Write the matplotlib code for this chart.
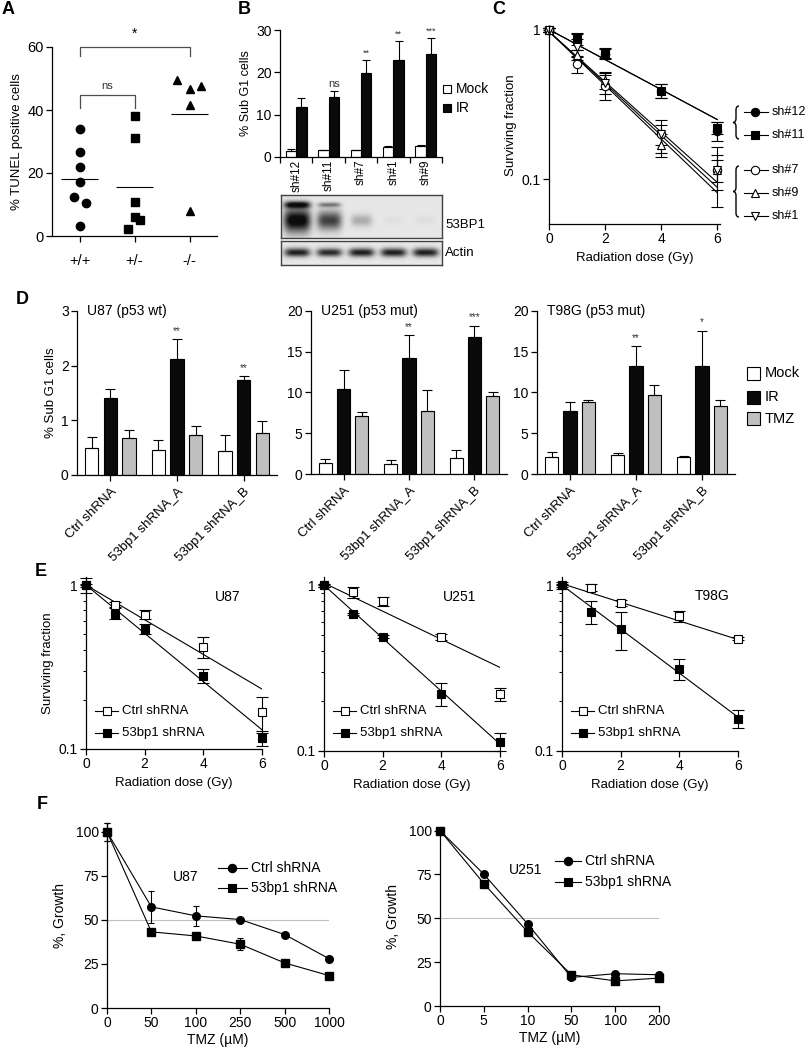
import numpy as np
import matplotlib
matplotlib.use("Agg")
import matplotlib.pyplot as plt
from matplotlib.lines import Line2D
from matplotlib.patches import Rectangle, PathPatch
from matplotlib.path import Path

plt.rcParams['font.family'] = ['Liberation Sans', 'DejaVu Sans']
plt.rcParams['axes.linewidth'] = 0.9

# ---------------- data ----------------
# A: TUNEL
genotypes = ['+/+', '+/-', '-/-']
tunel_wt = [34, 26.7, 22, 17.3, 12.4, 10.4, 3.3]
tunel_het = [38.2, 31, 10.8, 6, 5.1, 2.3]
tunel_ko = [49.5, 46.7, 47.7, 41.6, 8]
jit_wt = [0, 0, 0, 0, -0.1, 0.11, 0]
jit_het = [0, 0, 0, 0, 0.1, -0.11]
jit_ko = [-0.22, 0, 0.21, 0, 0]

# B: sub G1 per shRNA
sh_labels = ['sh#12', 'sh#11', 'sh#7', 'sh#1', 'sh#9']
b_mock = [1.3, 1.6, 1.6, 2.3, 2.7]
b_mock_err = [0.7, 0.1, 0.1, 0.2, 0.2]
b_ir = [11.7, 14.2, 19.8, 23.0, 24.3]
b_ir_err = [2.2, 1.3, 3.0, 4.4, 3.8]
b_sig = ['', 'ns', '**', '**', '***']
blot_53bp1_upper = [0.9, 0.45, 0.0, 0.0, 0.0]
blot_53bp1_lower = [1.0, 0.7, 0.25, 0.03, 0.04]
blot_actin = [0.85, 0.8, 0.85, 0.85, 0.85]

# C: clonogenic per shRNA
doses = [0, 1, 2, 4, 6]
c_names = ['sh#12', 'sh#11', 'sh#7', 'sh#9', 'sh#1']
c_sh12 = [1.0, 0.83, 0.69, 0.39, 0.21]
c_sh11 = [1.0, 0.87, 0.70, 0.39, 0.22]
c_sh7 = [1.0, 0.59, 0.42, 0.20, 0.115]
c_sh9 = [1.0, 0.68, 0.46, 0.17, 0.115]
c_sh1 = [1.0, 0.76, 0.44, 0.20, 0.115]
c_sh12_err = [0.03, 0.1, 0.05, 0.04, 0.03]
c_sh11_err = [0.03, 0.08, 0.05, 0.04, 0.02]
c_sh7_err = [0.03, 0.08, 0.08, 0.03, 0.02]
c_sh9_err = [0.03, 0.05, 0.06, 0.03, 0.03]
c_sh1_err = [0.03, 0.1, 0.07, 0.05, 0.05]
c_fit0 = [1.0, 1.0, 0.97, 0.97, 0.97]
c_fit6 = [0.25, 0.25, 0.095, 0.088, 0.081]

# D: sub G1 in three lines
d_groups = ['Ctrl shRNA', '53bp1 shRNA_A', '53bp1 shRNA_B']
u87_mock = [0.5, 0.46, 0.43]
u87_mock_err = [0.19, 0.18, 0.30]
u87_ir = [1.41, 2.12, 1.73]
u87_ir_err = [0.16, 0.37, 0.08]
u87_tmz = [0.67, 0.73, 0.77]
u87_tmz_err = [0.16, 0.16, 0.22]
u251_mock = [1.3, 1.25, 2.0]
u251_mock_err = [0.6, 0.45, 0.9]
u251_ir = [10.45, 14.2, 16.75]
u251_ir_err = [2.3, 2.85, 1.45]
u251_tmz = [7.1, 7.75, 9.6]
u251_tmz_err = [0.45, 2.6, 0.4]
t98_mock = [2.05, 2.3, 2.05]
t98_mock_err = [0.6, 0.3, 0.2]
t98_ir = [7.7, 13.2, 13.2]
t98_ir_err = [1.1, 2.5, 4.4]
t98_tmz = [8.8, 9.65, 8.35]
t98_tmz_err = [0.25, 1.25, 0.7]
u87_sig = ['', '**', '**']
u251_sig = ['', '**', '***']
t98_sig = ['', '**', '*']

# E: clonogenic in three lines
e_u87_ctrl = [1.0, 0.76, 0.66, 0.42, 0.167]
e_u87_ctrl_err = [0.1, 0.03, 0.04, 0.06, 0.042]
e_u87_kd = [1.0, 0.67, 0.54, 0.28, 0.116]
e_u87_kd_err = [0.02, 0.05, 0.04, 0.026, 0.012]
e_u87_fit = [(1.0, 0.232), (1.0, 0.131)]
e_u251_ctrl = [1.0, 0.907, 0.80, 0.49, 0.22]
e_u251_ctrl_err = [0.02, 0.07, 0.05, 0.02, 0.02]
e_u251_kd = [1.0, 0.674, 0.49, 0.222, 0.114]
e_u251_kd_err = [0.02, 0.01, 0.01, 0.035, 0.014]
e_u251_fit = [(1.03, 0.319), (1.0, 0.11)]
e_t98_ctrl = [1.0, 0.968, 0.78, 0.65, 0.474]
e_t98_ctrl_err = [0.02, 0.05, 0.03, 0.05, 0.01]
e_t98_kd = [1.0, 0.69, 0.547, 0.314, 0.157]
e_t98_kd_err = [0.05, 0.11, 0.14, 0.045, 0.02]
e_t98_fit = [(1.02, 0.47), (1.0, 0.16)]

# F: TMZ growth
f_u87_doses = ['0', '50', '100', '250', '500', '1000']
f_u87_ctrl = [100, 57.4, 52.3, 50.2, 41.7, 28.0]
f_u87_ctrl_err = [5, 9, 5.7, 0, 0, 0]
f_u87_kd = [100, 43.2, 40.9, 36.2, 25.6, 18.4]
f_u87_kd_err = [5, 0, 0, 3.3, 0, 0]
f_u251_doses = ['0', '5', '10', '50', '100', '200']
f_u251_ctrl = [100, 75.1, 46.8, 16.3, 18.4, 17.8]
f_u251_kd = [100, 69.8, 42.3, 17.8, 14.3, 15.9]

# ---------------- figure ----------------
W, H = 809, 1050
fig = plt.figure(figsize=(W / 100, H / 100), dpi=100)


def box(l, t, r, b):
    return fig.add_axes([l / W, 1 - b / H, (r - l) / W, (b - t) / H])


def px(x, y):
    return x / W, 1 - y / H


def style(ax, fs=10):
    for s in ['top', 'right']:
        ax.spines[s].set_visible(False)
    ax.tick_params(direction='out', length=4, width=0.9, labelsize=fs, pad=2)
    ax.tick_params(which='minor', direction='out', length=2, width=0.7)


def leg_line(x0, x1, xm, y, marker, mfc, text, fs=9, ms=5.5):
    fig.add_artist(Line2D([x0 / W, x1 / W], [1 - y / H] * 2, color='black', lw=0.8,
                          transform=fig.transFigure))
    fig.add_artist(Line2D([xm / W], [1 - y / H], marker=marker, mfc=mfc, mec='black',
                          ms=ms, mew=0.8, color='black', transform=fig.transFigure))
    fig.text(*px(x1 + 4, y), text, fontsize=fs, va='center', ha='left')


def leg_box(x, y, size, color, text, fs=10):
    fig.add_artist(Rectangle(px(x, y + size / 2), size / W, size / H, facecolor=color,
                             edgecolor='black', lw=0.8, transform=fig.transFigure))
    fig.text(*px(x + size + 5, y), text, fontsize=fs, va='center', ha='left')


def brace(x, y0, y1, w=6):
    # thin left curly brace in pixel coords
    ym = (y0 + y1) / 2
    r = 4
    verts = [(x + w, y0), (x + w / 2, y0), (x + w / 2, y0 + r),
             (x + w / 2, ym - r), (x + w / 2, ym), (x, ym),
             (x + w / 2, ym), (x + w / 2, ym + r),
             (x + w / 2, y1 - r), (x + w / 2, y1), (x + w, y1)]
    codes = [Path.MOVETO, Path.CURVE3, Path.CURVE3, Path.LINETO, Path.CURVE3, Path.CURVE3,
             Path.CURVE3, Path.CURVE3, Path.LINETO, Path.CURVE3, Path.CURVE3]
    verts = [px(a, b) for a, b in verts]
    fig.add_artist(PathPatch(Path(verts, codes), fill=False, lw=1.0, edgecolor='black',
                             transform=fig.transFigure))


for lab, (x, y) in zip('ABCDEF', [(2, 1), (238, 1), (492, 1), (16, 291), (35, 563), (37, 796)]):
    fig.text(*px(x, y), lab, fontsize=13, fontweight='bold', va='top', ha='left')

# ---- A ----
axA = box(52, 47, 217, 236)
style(axA, 10.5)
for i, (vals, jit, m) in enumerate(zip([tunel_wt, tunel_het, tunel_ko],
                                       [jit_wt, jit_het, jit_ko], ['o', 's', '^'])):
    axA.plot(i + np.array(jit), vals, m, color='black', ms=6, ls='none', clip_on=False)
    axA.hlines(np.mean(vals), i - 0.33, i + 0.33, color='black', lw=0.8)
axA.set_xlim(-0.5, 2.5)
axA.set_ylim(0, 60)
axA.set_yticks([0, 20, 40, 60])
axA.set_xticks([0, 1, 2])
axA.set_xticklabels(genotypes)
axA.tick_params(axis='x', pad=9)
axA.set_ylabel('% TUNEL positive cells', fontsize=9.5, labelpad=3)
axA.plot([0, 0, 2, 2], [57, 60, 60, 57], color='0.3', lw=0.9, clip_on=False)
axA.text(1, 62, '*', ha='center', va='bottom', fontsize=10)
axA.plot([0, 0, 1, 1], [40.6, 44.8, 44.8, 40.6], color='0.3', lw=0.9, clip_on=False)
axA.text(0.5, 46, 'ns', ha='center', va='bottom', fontsize=8, color='0.2')

# ---- B ----
axB = box(280, 30, 442, 157)
style(axB, 10)
xb = np.arange(5) + 0.5
ek = dict(lw=0.8, capthick=0.8, ecolor='black')
axB.bar(xb - 0.16, b_mock, 0.32, color='white', edgecolor='black', lw=0.8,
        yerr=[np.zeros(5), b_mock_err], capsize=3, error_kw=ek)
axB.bar(xb + 0.16, b_ir, 0.32, color='#0a0a0a', edgecolor='black', lw=0.8,
        yerr=[np.zeros(5), b_ir_err], capsize=3, error_kw=ek)
for xi, v, e, s in zip(xb, b_ir, b_ir_err, b_sig):
    axB.text(xi + 0.16, v + e + 0.6, s, ha='center', va='bottom',
             fontsize=8 if s == 'ns' else 6.5, color='0.2')
axB.set_xlim(0, 5)
axB.set_ylim(0, 30)
axB.set_yticks([0, 10, 20, 30])
axB.set_xticks(range(6))
axB.set_xticklabels([])
axB.set_xticks(xb, minor=True)
axB.set_xticklabels(sh_labels, minor=True, rotation=90, fontsize=8.5)
axB.tick_params(axis='x', which='minor', length=0, pad=2)
axB.set_ylabel('% Sub G1 cells', fontsize=9, labelpad=3)
leg_box(443, 89, 8, 'white', 'Mock', 10)
leg_box(443, 108, 8, '#0a0a0a', 'IR', 10)


# western blot
def blot(ax, bands, ny):
    xx = np.linspace(0, 5, 322)
    yy = np.arange(ny) + 0.5
    X, Y = np.meshgrid(xx, yy)
    img = np.full(X.shape, 0.1)
    for yc, wy, inten in bands:
        for k, a in enumerate(inten):
            if a <= 0:
                continue
            wx = 0.3 + 0.12 * a
            img += a * np.exp(-((X - k - 0.5) / wx) ** 4) * np.exp(-((Y - yc) / (wy * (0.5 + a))) ** 2)
    ax.imshow(np.clip(img, 0, 1), cmap='gray_r', vmin=0, vmax=1.05, aspect='auto',
              extent=(0, 5, ny, 0), interpolation='bilinear')
    ax.set_xticks([])
    ax.set_yticks([])
    for s in ax.spines.values():
        s.set_linewidth(1.0)
        s.set_color('0.25')


axW1 = box(281, 195, 442, 238)
blot(axW1, [(10, 2.5, blot_53bp1_upper), (26, 8, blot_53bp1_lower)], 44)
axW2 = box(281, 241, 442, 265)
blot(axW2, [(12, 3, blot_actin)], 24)
fig.text(*px(445, 225), '53BP1', fontsize=9.5, va='center')
fig.text(*px(445, 253), 'Actin', fontsize=9.5, va='center')

# ---- C ----
axC = box(549, 27, 720, 224)
style(axC, 10)
axC.set_yscale('log')
c_series = [(c_sh12, c_sh12_err, 'o', 'black'), (c_sh11, c_sh11_err, 's', 'black'),
            (c_sh7, c_sh7_err, 'o', 'white'), (c_sh9, c_sh9_err, '^', 'white'),
            (c_sh1, c_sh1_err, 'v', 'white')]
for (vals, err, m, fc), f0, f6 in zip(c_series, c_fit0, c_fit6):
    axC.plot([0, 6], [f0, f6], color='black', lw=0.8)
    axC.errorbar(doses, vals, yerr=err, fmt=m, mfc=fc, mec='black', ms=6, mew=0.8,
                 ecolor='black', elinewidth=0.8, capsize=4, capthick=0.8, clip_on=False)
axC.set_xlim(0, 6.1)
axC.set_ylim(0.05, 1.04)
axC.set_xticks([0, 2, 4, 6])
axC.set_yticks([0.1, 1])
axC.set_yticklabels(['0.1', '1'])
axC.yaxis.set_minor_locator(matplotlib.ticker.NullLocator())
axC.set_xlabel('Radiation dose (Gy)', fontsize=9.5)
axC.set_ylabel('Surviving fraction', fontsize=9.5, labelpad=3)
for (vals, err, m, fc), y, lab in zip(c_series, [112, 135, 170, 193, 216], c_names):
    leg_line(744, 768, 755, y, m, fc, lab, 9, 6)
brace(733, 106, 139)
brace(733, 166, 217)

# ---- D ----
d_cols = ['white', '#0a0a0a', '#bfbfbf']
d_sets = [
    ((77, 311, 277, 475), [u87_mock, u87_ir, u87_tmz], [u87_mock_err, u87_ir_err, u87_tmz_err],
     u87_sig, 3, [0, 1, 2, 3], 'U87 (p53 wt)', 0.06),
    ((311, 311, 507, 474), [u251_mock, u251_ir, u251_tmz], [u251_mock_err, u251_ir_err, u251_tmz_err],
     u251_sig, 20, [0, 5, 10, 15, 20], 'U251 (p53 mut)', 0.4),
    ((537, 311, 735, 474), [t98_mock, t98_ir, t98_tmz], [t98_mock_err, t98_ir_err, t98_tmz_err],
     t98_sig, 20, [0, 5, 10, 15, 20], 'T98G (p53 mut)', 0.4),
]
for k, (bx, vals, errs, sig, top, yt, title, off) in enumerate(d_sets):
    ax = box(*bx)
    style(ax, 10)
    xg = np.arange(3)
    for j in range(3):
        ax.bar(xg + (j - 1) * 0.28, vals[j], 0.2, color=d_cols[j], edgecolor='black', lw=0.8,
               yerr=[np.zeros(3), errs[j]], capsize=3.5, error_kw=ek)
    for xi, v, e, s in zip(xg, vals[1], errs[1], sig):
        ax.text(xi, v + e + off, s, ha='center', va='bottom', fontsize=7, color='0.2')
    ax.set_xlim(-0.5, 2.5)
    ax.set_ylim(0, top)
    ax.set_yticks(yt)
    ax.set_xticks(xg)
    ax.set_xticklabels(d_groups, rotation=45, ha='right', rotation_mode='anchor', fontsize=9.5)
    ax.tick_params(axis='x', pad=4)
    ax.text(0.05, 1.0, title, transform=ax.transAxes, fontsize=10, va='center', ha='left')
    if k == 0:
        ax.set_ylabel('% Sub G1 cells', fontsize=9.5, labelpad=3)
for y, c, t in zip([373, 397, 419], d_cols, ['Mock', 'IR', 'TMZ']):
    leg_box(747, y, 13, c, t, 10.5)

# ---- E ----
e_sets = [
    ((86, 577, 262, 749), e_u87_ctrl, e_u87_ctrl_err, e_u87_kd, e_u87_kd_err, e_u87_fit, 'U87', (228, 597)),
    ((324, 577, 500, 751), e_u251_ctrl, e_u251_ctrl_err, e_u251_kd, e_u251_kd_err, e_u251_fit, 'U251', (460, 597)),
    ((562, 577, 738, 751), e_t98_ctrl, e_t98_ctrl_err, e_t98_kd, e_t98_kd_err, e_t98_fit, 'T98G', (712, 596)),
]
for k, (bx, ctrl, cerr, kd, kerr, fit, name, tp) in enumerate(e_sets):
    ax = box(*bx)
    style(ax, 10)
    ax.set_yscale('log')
    for (f0, f6) in fit:
        ax.plot([0, 6], [f0, f6], color='black', lw=0.8)
    ax.errorbar(doses, ctrl, yerr=cerr, fmt='s', mfc='white', mec='black', ms=6, mew=0.8,
                ecolor='black', elinewidth=0.8, capsize=4, capthick=0.8, clip_on=False, zorder=3)
    ax.errorbar(doses, kd, yerr=kerr, fmt='s', mfc='black', mec='black', ms=6, mew=0.8,
                ecolor='black', elinewidth=0.8, capsize=4, capthick=0.8, clip_on=False, zorder=3)
    ax.set_xlim(0, 6)
    ax.set_ylim(0.1, 1.12)
    ax.set_xticks([0, 2, 4, 6])
    ax.set_yticks([0.1, 1])
    ax.set_yticklabels(['0.1', '1'])
    ax.yaxis.set_minor_formatter(matplotlib.ticker.NullFormatter())
    ax.set_xlabel('Radiation dose (Gy)', fontsize=9.5)
    if k == 0:
        ax.set_ylabel('Surviving fraction', fontsize=9.5, labelpad=3)
    fig.text(*px(*tp), name, fontsize=10, ha='center', va='center')
    l0 = bx[0] + 9
    leg_line(l0, l0 + 23, l0 + 12, 711, 's', 'white', 'Ctrl shRNA', 9.5, 5.5)
    leg_line(l0, l0 + 23, l0 + 12, 733, 's', 'black', '53bp1 shRNA', 9.5, 5.5)

# ---- F ----
f_sets = [
    ((107, 823, 329, 1008), f_u87_doses, f_u87_ctrl, f_u87_ctrl_err, f_u87_kd, f_u87_kd_err, 105,
     'U87', (186, 877), (218, 247, 232, 868, 888)),
    ((440, 827, 659, 1006), f_u251_doses, f_u251_ctrl, None, f_u251_kd, None, 102,
     'U251', (526, 870), (555, 581, 568, 861, 882)),
]
for bx, labs, ctrl, cerr, kd, kerr, top, name, tp, lg in f_sets:
    ax = box(*bx)
    style(ax, 10)
    xf = np.arange(len(labs))
    ax.axhline(50, color='0.75', lw=0.8, zorder=0)
    ax.errorbar(xf, ctrl, yerr=cerr, fmt='o-', color='black', ms=5.5, lw=0.8,
                elinewidth=0.8, capsize=2, capthick=0.8, clip_on=False, zorder=3)
    ax.errorbar(xf, kd, yerr=kerr, fmt='s-', color='black', ms=5.5, lw=0.8,
                elinewidth=0.8, capsize=2, capthick=0.8, clip_on=False, zorder=3)
    ax.set_xlim(0, len(labs) - 1)
    ax.set_ylim(0, top)
    ax.set_yticks([0, 25, 50, 75, 100])
    ax.set_xticks(xf)
    ax.set_xticklabels(labs)
    ax.set_xlabel('TMZ (\u00b5M)', fontsize=10, labelpad=2)
    ax.set_ylabel('%, Growth', fontsize=10, labelpad=6)
    fig.text(*px(*tp), name, fontsize=10, ha='center', va='center')
    leg_line(lg[0], lg[1], lg[2], lg[3], 'o', 'black', 'Ctrl shRNA', 10, 6)
    leg_line(lg[0], lg[1], lg[2], lg[4], 's', 'black', '53bp1 shRNA', 10, 6)

fig.savefig('out.png', dpi=100)
